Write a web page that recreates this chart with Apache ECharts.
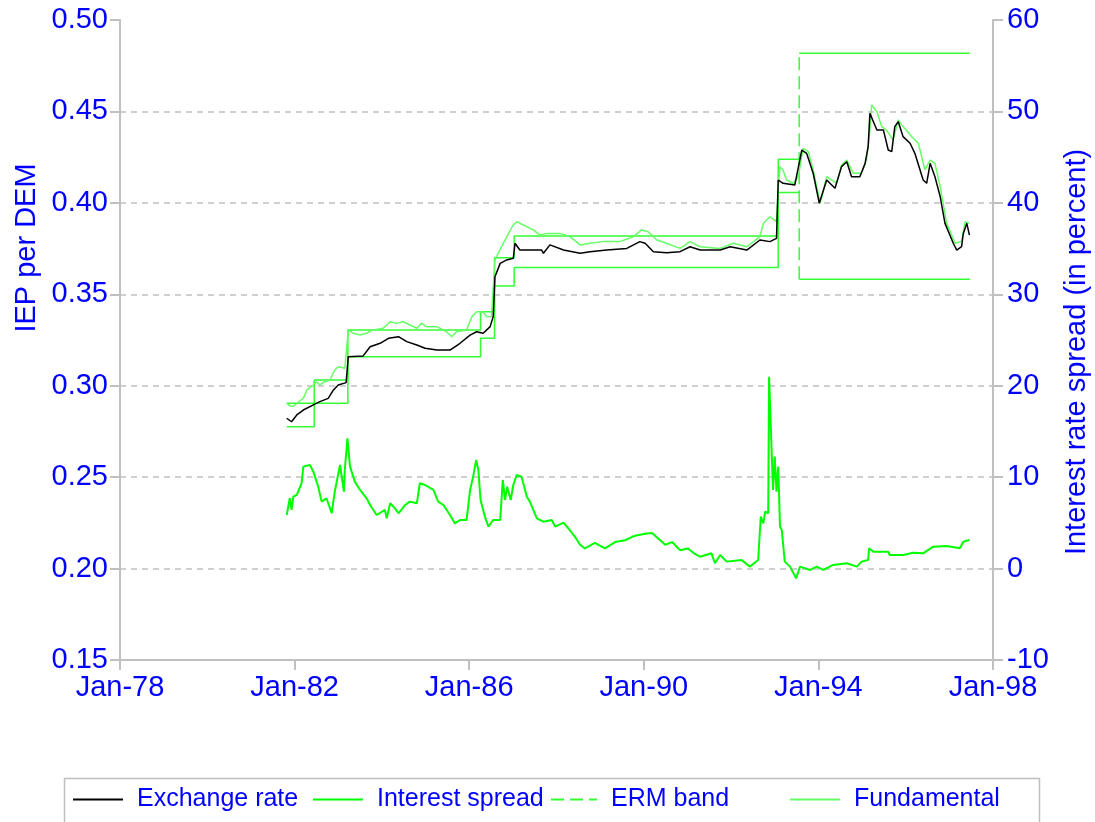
<!DOCTYPE html>
<html>
<head>
<meta charset="utf-8">
<script src="https://cdn.jsdelivr.net/npm/echarts@6/dist/echarts.min.js"></script>
<style>
  html, body { margin: 0; padding: 0; background: #fff; }
  #main { width: 1095px; height: 822px; }
</style>
</head>
<body>
<div id="main"></div>
<script>
// exchange rate, IEP per DEM
var rateDates = [1981.82, 1981.93, 1982.05, 1982.20, 1982.43, 1982.58, 1982.77, 1982.89, 1983.00, 1983.18,
  1983.23, 1983.57, 1983.73, 1983.96, 1984.15, 1984.38, 1984.57, 1984.80, 1984.99, 1985.26,
  1985.56, 1985.79, 1986.02, 1986.17, 1986.32, 1986.48, 1986.55, 1986.59, 1986.71, 1986.86,
  1987.01, 1987.05, 1987.16, 1987.66, 1987.70, 1987.85, 1988.16, 1988.54, 1988.77, 1989.15,
  1989.61, 1989.91, 1990.03, 1990.22, 1990.52, 1990.83, 1991.06, 1991.29, 1991.75, 1991.98,
  1992.36, 1992.66, 1992.89, 1993.04, 1993.08, 1993.19, 1993.46, 1993.62, 1993.73, 1993.88,
  1994.02, 1994.19, 1994.38, 1994.53, 1994.65, 1994.76, 1994.95, 1995.07, 1995.14, 1995.18,
  1995.26, 1995.34, 1995.49, 1995.60, 1995.68, 1995.75, 1995.83, 1995.94, 1996.10, 1996.21,
  1996.40, 1996.48, 1996.56, 1996.67, 1996.79, 1996.90, 1997.09, 1997.17, 1997.28, 1997.32,
  1997.40, 1997.46];
var rateValues = [0.2822, 0.2803, 0.2840, 0.2867, 0.2895, 0.2913, 0.2931, 0.2977, 0.3004, 0.3017,
  0.3159, 0.3163, 0.3213, 0.3232, 0.3259, 0.3268, 0.3241, 0.3223, 0.3205, 0.3195,
  0.3195, 0.3232, 0.3277, 0.3295, 0.3287, 0.3323, 0.3378, 0.3596, 0.3669, 0.3688,
  0.3697, 0.3779, 0.3742, 0.3742, 0.3724, 0.3770, 0.3742, 0.3724, 0.3733, 0.3742,
  0.3751, 0.3788, 0.3779, 0.3733, 0.3727, 0.3733, 0.3760, 0.3742, 0.3742, 0.3760,
  0.3742, 0.3797, 0.3788, 0.3806, 0.4125, 0.4107, 0.4098, 0.4289, 0.4271, 0.4162,
  0.3998, 0.4125, 0.4080, 0.4198, 0.4225, 0.4143, 0.4143, 0.4216, 0.4307, 0.4490,
  0.4444, 0.4398, 0.4398, 0.4289, 0.4280, 0.4417, 0.4444, 0.4362, 0.4326, 0.4271,
  0.4125, 0.4107, 0.4216, 0.4143, 0.4034, 0.3888, 0.3779, 0.3742, 0.3760, 0.3833,
  0.3888, 0.3824];

// fundamental
var fundDates = [1981.82, 1981.89, 1981.97, 1982.05, 1982.20, 1982.28, 1982.43, 1982.50, 1982.58, 1982.69,
  1982.81, 1982.92, 1983.00, 1983.15, 1983.23, 1983.34, 1983.50, 1983.65, 1983.80, 1984.03,
  1984.19, 1984.34, 1984.49, 1984.64, 1984.80, 1984.91, 1985.02, 1985.26, 1985.48, 1985.60,
  1985.71, 1985.94, 1986.06, 1986.17, 1986.32, 1986.40, 1986.51, 1986.59, 1986.78, 1987.01,
  1987.09, 1987.24, 1987.47, 1987.62, 1987.78, 1988.08, 1988.31, 1988.54, 1988.77, 1989.07,
  1989.45, 1989.76, 1989.95, 1990.10, 1990.30, 1990.52, 1990.83, 1991.06, 1991.29, 1991.75,
  1992.05, 1992.36, 1992.66, 1992.74, 1992.89, 1993.04, 1993.08, 1993.12, 1993.19, 1993.27,
  1993.42, 1993.54, 1993.65, 1993.77, 1993.88, 1994.04, 1994.19, 1994.42, 1994.53, 1994.65,
  1994.80, 1994.99, 1995.10, 1995.18, 1995.22, 1995.34, 1995.45, 1995.56, 1995.71, 1995.83,
  1995.94, 1996.14, 1996.29, 1996.44, 1996.56, 1996.67, 1996.79, 1996.94, 1997.13, 1997.28,
  1997.36, 1997.46];
var fundValues = [0.2904, 0.2890, 0.2886, 0.2904, 0.2931, 0.2977, 0.3004, 0.3022, 0.3004, 0.3022,
  0.3031, 0.3086, 0.3104, 0.3095, 0.3305, 0.3287, 0.3277, 0.3287, 0.3305, 0.3314,
  0.3350, 0.3341, 0.3350, 0.3332, 0.3314, 0.3341, 0.3323, 0.3323, 0.3295, 0.3268,
  0.3295, 0.3305, 0.3377, 0.3405, 0.3405, 0.3377, 0.3377, 0.3688, 0.3779, 0.3879,
  0.3897, 0.3879, 0.3852, 0.3824, 0.3833, 0.3833, 0.3815, 0.3770, 0.3779, 0.3788,
  0.3788, 0.3815, 0.3852, 0.3842, 0.3797, 0.3779, 0.3751, 0.3788, 0.3760, 0.3751,
  0.3779, 0.3760, 0.3815, 0.3888, 0.3924, 0.3897, 0.4088, 0.4198, 0.4180, 0.4125,
  0.4107, 0.4143, 0.4298, 0.4280, 0.4180, 0.3998, 0.4143, 0.4107, 0.4207, 0.4234,
  0.4162, 0.4162, 0.4234, 0.4398, 0.4535, 0.4499, 0.4417, 0.4398, 0.4344, 0.4453,
  0.4417, 0.4362, 0.4326, 0.4180, 0.4234, 0.4216, 0.4088, 0.3888, 0.3779, 0.3788,
  0.3897, 0.3888];

// interest rate spread, percent (right axis)
var spreadDates = [1981.82, 1981.89, 1981.93, 1981.97, 1982.05, 1982.16, 1982.20, 1982.35, 1982.43, 1982.54,
  1982.62, 1982.73, 1982.85, 1982.92, 1983.04, 1983.13, 1983.15, 1983.21, 1983.27, 1983.38,
  1983.50, 1983.65, 1983.73, 1983.88, 1984.07, 1984.11, 1984.19, 1984.30, 1984.38, 1984.53,
  1984.64, 1984.80, 1984.87, 1984.99, 1985.18, 1985.29, 1985.41, 1985.56, 1985.67, 1985.79,
  1985.94, 1986.02, 1986.09, 1986.16, 1986.21, 1986.26, 1986.36, 1986.44, 1986.55, 1986.71,
  1986.77, 1986.82, 1986.87, 1986.95, 1987.01, 1987.09, 1987.20, 1987.32, 1987.39, 1987.55,
  1987.70, 1987.89, 1987.97, 1988.16, 1988.27, 1988.42, 1988.54, 1988.65, 1988.88, 1989.11,
  1989.34, 1989.57, 1989.80, 1990.03, 1990.19, 1990.33, 1990.49, 1990.65, 1990.83, 1991.01,
  1991.17, 1991.29, 1991.55, 1991.63, 1991.75, 1991.90, 1992.24, 1992.43, 1992.62, 1992.68,
  1992.74, 1992.78, 1992.85, 1992.87, 1992.91, 1992.96, 1993.00, 1993.04, 1993.08, 1993.12,
  1993.16, 1993.23, 1993.35, 1993.49, 1993.58, 1993.81, 1993.96, 1994.11, 1994.34, 1994.65,
  1994.88, 1994.99, 1995.14, 1995.16, 1995.26, 1995.60, 1995.63, 1995.79, 1995.94, 1996.17,
  1996.40, 1996.63, 1996.94, 1997.24, 1997.32, 1997.46];
var spreadValues = [5.86, 7.69, 6.41, 7.86, 8.05, 9.33, 11.15, 11.33, 10.6, 8.96,
  7.32, 7.69, 6.05, 8.41, 11.33, 8.41, 10.78, 14.24, 11.15, 9.51,
  8.6, 7.69, 6.95, 5.86, 6.41, 5.5, 7.14, 6.59, 6.05, 6.95,
  7.32, 7.14, 9.33, 9.14, 8.6, 7.32, 6.95, 5.86, 4.95, 5.31,
  5.31, 8.6, 10.05, 11.88, 10.78, 7.5, 5.68, 4.59, 5.31, 5.31,
  9.69, 7.5, 8.96, 7.5, 9.14, 10.24, 10.05, 7.86, 7.32, 5.5,
  5.13, 5.31, 4.59, 5.03, 4.41, 3.5, 2.6, 2.2, 2.8, 2.2,
  2.9, 3.1, 3.6, 3.8, 3.9, 3.3, 2.6, 2.9, 2.0, 2.2,
  1.6, 1.3, 1.67, 0.58, 1.49, 0.76, 0.94, 0.21, 0.94, 5.68,
  4.95, 6.22, 6.05, 20.98, 15.52, 8.6, 12.24, 8.41, 11.15, 4.59,
  4.23, 0.76, 0.21, -1.07, 0.21, -0.15, 0.21, -0.15, 0.4, 0.58,
  0.21, 0.76, 0.94, 2.22, 1.85, 1.85, 1.49, 1.49, 1.49, 1.74,
  1.67, 2.4, 2.47, 2.22, 2.94, 3.13];

// ERM band: period start dates (plus end date), upper and lower limits
var ermDates = [1981.82, 1982.45, 1983.22, 1986.26, 1986.58, 1987.03, 1993.08, 1993.56, 1997.47];
var ermUpper = [0.2904, 0.3031, 0.3305, 0.3405, 0.3700, 0.3819, 0.4238, 0.4818];
var ermLower = [0.2776, 0.2904, 0.3159, 0.3259, 0.3545, 0.3646, 0.4056, 0.3582];
var wideBand = 7; // index of the widened band (Aug-93)

var xTicks = [1978, 1982, 1986, 1990, 1994, 1998];

var blue = '#0000ff';
var grey = '#c0c0c0';
var font = "'Liberation Sans', Arial, sans-serif";

function zip(xs, ys) {
    var out = [];
    for (var i = 0; i < xs.length; i++) out.push([xs[i], ys[i]]);
    return out;
}

function bandLine(vals) {
    var out = [];
    for (var i = 0; i < vals.length; i++) {
        if (i === wideBand) out.push([ermDates[i], '-']);
        out.push([ermDates[i], vals[i]]);
        out.push([ermDates[i + 1], vals[i]]);
    }
    return out;
}

var chart = echarts.init(document.getElementById('main'));

var legendText = { color: blue, fontSize: 25, fontFamily: font, padding: [0, 0, 0, 9] };
function legendAt(name, left, w) {
    return {
        data: [name], left: left, top: 787, padding: 0,
        itemWidth: w, itemHeight: 2,
        itemStyle: { opacity: 0 },
        textStyle: legendText
    };
}

var option = {
    animation: false,
    backgroundColor: '#fff',
    grid: { left: 120, right: 102, top: 20, bottom: 162 },
    legend: [
        legendAt('Exchange rate', 72, 50),
        legendAt('Interest spread', 312, 50),
        legendAt('ERM band', 550, 46),
        legendAt('Fundamental', 789, 50)
    ],
    graphic: [
        { type: 'rect', left: 62, top: 776, shape: { width: 975, height: 70 },
          style: { fill: 'none', stroke: grey, lineWidth: 1.5 }, silent: true },
        { type: 'text', x: 27, y: 248, rotation: Math.PI / 2,
          style: { text: 'IEP per DEM', fill: blue, fontSize: 29, fontFamily: font, align: 'center', verticalAlign: 'middle' } },
        { type: 'text', x: 1077, y: 352, rotation: Math.PI / 2,
          style: { text: 'Interest rate spread (in percent)', fill: blue, fontSize: 29, fontFamily: font, align: 'center', verticalAlign: 'middle' } }
    ],
    xAxis: {
        type: 'value',
        min: xTicks[0],
        max: xTicks[xTicks.length - 1],
        interval: 4,
        axisLine: { onZero: false, lineStyle: { color: grey, width: 2 } },
        axisTick: { length: 10, lineStyle: { color: grey, width: 2 } },
        axisLabel: {
            color: blue, fontSize: 29, fontFamily: font, margin: 13,
            formatter: function (v) { return 'Jan-' + String(v).slice(2, 4); }
        },
        splitLine: { show: false }
    },
    yAxis: [{
        type: 'value',
        min: 0.15,
        max: 0.5,
        interval: 0.05,
        axisLine: { show: true, onZero: false, lineStyle: { color: grey, width: 2 } },
        axisTick: { show: true, length: 10, lineStyle: { color: grey, width: 2 } },
        axisLabel: {
            color: blue, fontSize: 29, fontFamily: font, margin: 12,
            formatter: function (v) { return v.toFixed(2); }
        },
        splitLine: { show: true, showMinLine: false, showMaxLine: false,
            lineStyle: { color: grey, width: 1.5, type: [6, 5] } }
    }, {
        type: 'value',
        position: 'right',
        min: -10,
        max: 60,
        interval: 10,
        axisLine: { show: true, onZero: false, lineStyle: { color: grey, width: 2 } },
        axisTick: { show: true, length: 10, lineStyle: { color: grey, width: 2 } },
        axisLabel: { color: blue, fontSize: 29, fontFamily: font, margin: 14 },
        splitLine: { show: false }
    }],
    series: [{
        name: 'ERM band',
        type: 'line',
        symbol: 'none',
        data: [[ermDates[wideBand], ermLower[wideBand]], [ermDates[wideBand], ermUpper[wideBand]]],
        lineStyle: { color: '#33ff33', width: 1.5, type: [13, 6] },
        itemStyle: { color: '#33ff33' }
    }, {
        name: 'ERM band',
        type: 'line',
        symbol: 'none',
        data: bandLine(ermUpper),
        lineStyle: { color: '#33ff33', width: 1.5 },
        itemStyle: { color: '#33ff33' }
    }, {
        name: 'ERM band',
        type: 'line',
        symbol: 'none',
        data: bandLine(ermLower),
        lineStyle: { color: '#33ff33', width: 1.5 },
        itemStyle: { color: '#33ff33' }
    }, {
        name: 'Fundamental',
        type: 'line',
        symbol: 'none',
        data: zip(fundDates, fundValues),
        lineStyle: { color: '#66ff66', width: 1.5 },
        itemStyle: { color: '#66ff66' }
    }, {
        name: 'Interest spread',
        type: 'line',
        yAxisIndex: 1,
        symbol: 'none',
        data: zip(spreadDates, spreadValues),
        lineStyle: { color: '#00ff00', width: 2 },
        itemStyle: { color: '#00ff00' }
    }, {
        name: 'Exchange rate',
        type: 'line',
        symbol: 'none',
        data: zip(rateDates, rateValues),
        lineStyle: { color: '#000000', width: 1.5 },
        itemStyle: { color: '#000000' }
    }]
};

chart.setOption(option);
</script>
</body>
</html>
